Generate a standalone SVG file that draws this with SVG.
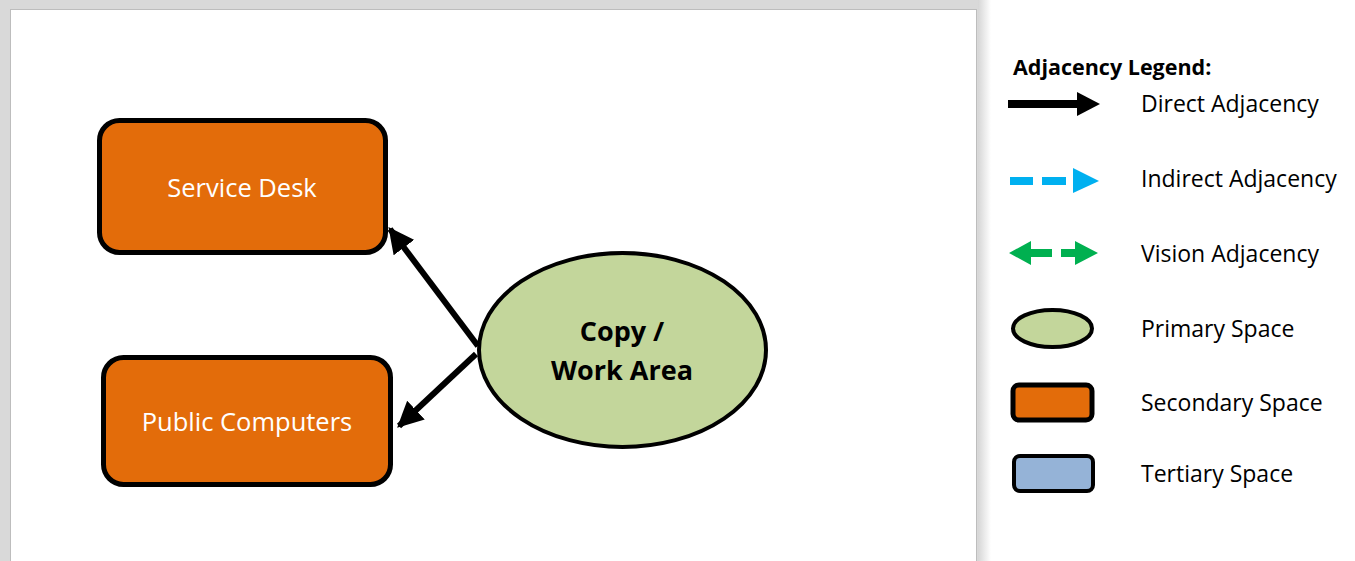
<svg xmlns="http://www.w3.org/2000/svg" width="1355" height="561" viewBox="0 0 1355 561">
<defs>
<linearGradient id="shadeR" x1="0" y1="0" x2="1" y2="0">
<stop offset="0" stop-color="#d6d6d6"/>
<stop offset="1" stop-color="#ffffff"/>
</linearGradient>
<marker id="headBlack" viewBox="0 0 10 10" refX="9" refY="5" markerWidth="4.3" markerHeight="4.3" markerUnits="strokeWidth" orient="auto">
<path d="M0,0 L10,5 L0,10 Z" fill="#000"/>
</marker>
</defs>
<style>
.sec{fill:#e36c0a;stroke:#000;stroke-width:5}
.pri{fill:#c3d69b;stroke:#000;stroke-width:4}
.ter{fill:#95b3d7;stroke:#000;stroke-width:4}
.wt{font-family:"Open Sans","Liberation Sans",sans-serif;font-size:25.5px;fill:#fff;text-anchor:middle}
.bt{font-family:"Open Sans","Liberation Sans",sans-serif;font-size:27px;font-weight:bold;fill:#000;text-anchor:middle}
.lt{font-family:"Open Sans","Liberation Sans",sans-serif;font-size:23px;fill:#000}
.lh{font-family:"Open Sans","Liberation Sans",sans-serif;font-size:21.5px;font-weight:bold;fill:#000}
.conn{stroke:#000;stroke-width:6;fill:none;marker-end:url(#headBlack)}
</style>
<rect x="0" y="0" width="1355" height="561" fill="#fff"/>
<g id="frame">
<rect x="0" y="0" width="978" height="561" fill="#d9d9d9"/>
<rect x="978" y="0" width="13" height="561" fill="url(#shadeR)"/>
<rect x="10.5" y="9.5" width="966" height="560" fill="#fff" stroke="#bdbdbd" stroke-width="1"/>
</g>
<g id="connectors">
<line class="conn" x1="478" y1="346" x2="390" y2="229"/>
<line class="conn" x1="476" y1="354" x2="399" y2="426"/>
</g>
<g id="service-desk">
<rect class="sec" x="99.5" y="120.5" width="286" height="132" rx="20"/>
<text class="wt" x="242" y="197">Service Desk</text>
</g>
<g id="public-computers">
<rect class="sec" x="103.5" y="357.5" width="287" height="127" rx="20"/>
<text class="wt" x="247" y="431">Public Computers</text>
</g>
<g id="copy-work-area">
<ellipse class="pri" cx="622.5" cy="350" rx="143.5" ry="97"/>
<text class="bt" x="622" y="341">Copy /</text>
<text class="bt" x="622" y="380">Work Area</text>
</g>
<g id="legend">
<text class="lh" x="1013" y="75">Adjacency Legend:</text>
<rect x="1008" y="100" width="71" height="8" fill="#000"/>
<path d="M1077,92 L1100,104 L1077,116 Z" fill="#000"/>
<text class="lt" x="1141" y="112">Direct Adjacency</text>
<rect x="1010" y="177" width="23" height="8" fill="#00b0f0"/>
<rect x="1042" y="177" width="24" height="8" fill="#00b0f0"/>
<path d="M1073,168 L1099,181 L1073,193 Z" fill="#00b0f0"/>
<text class="lt" x="1141" y="187">Indirect Adjacency</text>
<path d="M1009,253 L1031,241 L1031,249 L1052,249 L1052,257 L1031,257 L1031,265 Z" fill="#00b050"/>
<path d="M1061,249 L1075,249 L1075,241 L1098,253 L1075,265 L1075,257 L1061,257 Z" fill="#00b050"/>
<text class="lt" x="1141" y="262">Vision Adjacency</text>
<ellipse class="pri" cx="1052.5" cy="328.5" rx="39.5" ry="18.5"/>
<text class="lt" x="1141" y="337">Primary Space</text>
<rect class="sec" x="1013" y="385" width="79" height="35" rx="6" stroke-width="4"/>
<text class="lt" x="1141" y="411">Secondary Space</text>
<rect class="ter" x="1014" y="456" width="79" height="35" rx="6"/>
<text class="lt" x="1141" y="482">Tertiary Space</text>
</g>
</svg>
